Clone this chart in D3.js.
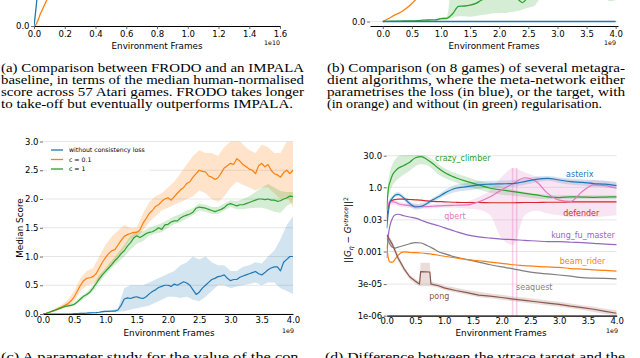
<!DOCTYPE html>
<html>
<head>
<meta charset="utf-8">
<script src="https://cdn.jsdelivr.net/npm/d3@7"></script>
<style>
  body { margin: 0; background: #fff; }
  svg { display: block; }
</style>
</head>
<body>
<script>
// ---------- data ----------

// (a) FRODO vs IMPALA, frames in 1e10 (only the bottom of the plot is visible)
const framesA = [0, 0.005, 0.01, 0.015, 0.02, 0.03, 0.04, 0.06, 0.08, 0.1, 0.12];
const impalaA = [0, 0.12, 0.26, 0.4, 0.55, 0.8, 1.0, 1.3, 1.5, 1.7, 1.8];
const frodoA = [0, 0.005, 0.02, 0.04, 0.07, 0.14, 0.22, 0.35, 0.48, 0.62, 0.75];
const ticksA = [0, 0.2, 0.4, 0.6, 0.8, 1.0, 1.2, 1.4, 1.6];

// (b) metagradient comparison, frames in 1e9
const framesB = [0,0.1,0.2,0.3,0.4,0.5,0.6,0.7,0.8,0.9,1,1.1,1.2,1.3,1.4,1.5,1.6,1.7,1.8,1.9,2,2.1,2.2,2.3,2.4,2.5,2.6,2.7,2.8,2.9,3,3.1,3.2,3.3,3.4,3.5,3.6,3.7,3.8,3.9,4];
const lossB = [0,0,0,0,0,0,0,0,0,0,0,0,0,0,0,0,0,0,0,0,0,0,0,0,0,0,0,0,0,0,0,0,0,0,0,0,0,0,0,0,0];
const targetRegB = [0,0.07,0.15,0.21,0.3,0.42,0.56,0.7,0.85,1,1.1,1.2,1.3,1.35,1.4,1.45,1.5,1.55,1.6,1.6,1.65,1.7,1.7,1.75,1.8,1.8,1.85,1.85,1.9,1.9,1.9,1.95,1.95,2,2,2,2,2.05,2.05,2.05,2.1];
const targetB = [0,0.004,0.008,0.011,0.013,0.016,0.02,0.03,0.035,0.038,0.065,0.075,0.18,0.35,0.36,0.38,0.42,0.5,0.55,0.58,0.6,0.6,0.58,0.54,0.44,0.58,0.64,0.67,0.68,0.7,0.71,0.72,0.72,0.73,0.73,0.74,0.74,0.75,0.75,0.76,0.76];
const targetBLo = [0,0.002,0.005,0.008,0.01,0.012,0.015,0.022,0.027,0.03,0.04,0.05,0.09,0.12,0.12,0.11,0.13,0.15,0.17,0.19,0.2,0.2,0.22,0.24,0.28,0.32,0.36,0.52,0.55,0.55,0.55,0.55,0.55,0.55,0.55,0.55,0.55,0.55,0.55,0.47,0.5];
const targetBHi = [0,0.006,0.011,0.014,0.016,0.02,0.025,0.038,0.045,0.05,0.09,0.11,1,1,1,1,1,1,1,1,1,1,1,1,1,1,1,1,1,1,1,1,1,1,1,1,1,1,1,1,1];
const ticksB = [0, 0.5, 1.0, 1.5, 2.0, 2.5, 3.0, 3.5, 4.0];

// (c) consistency loss study, frames in 1e9
const framesC = [0,0.05,0.1,0.15,0.2,0.25,0.3,0.35,0.4,0.45,0.5,0.55,0.6,0.65,0.7,0.75,0.8,0.85,0.9,0.95,1,1.05,1.1,1.15,1.2,1.25,1.3,1.35,1.4,1.45,1.5,1.55,1.6,1.65,1.7,1.75,1.8,1.85,1.9,1.95,2,2.05,2.1,2.15,2.2,2.25,2.3,2.35,2.4,2.45,2.5,2.55,2.6,2.65,2.7,2.75,2.8,2.85,2.9,2.95,3,3.05,3.1,3.15,3.2,3.25,3.3,3.35,3.4,3.45,3.5,3.55,3.6,3.65,3.7,3.75,3.8,3.85,3.9,3.95,4];
const noConsC = [0,0,0,0,0,0,0,0,0,0,0.005,0.007,0.01,0.012,0.015,0.02,0.022,0.025,0.03,0.04,0.045,0.045,0.05,0.05,0.07,0.15,0.26,0.28,0.27,0.29,0.3,0.28,0.27,0.3,0.35,0.39,0.42,0.46,0.48,0.5,0.5,0.48,0.52,0.5,0.53,0.56,0.54,0.5,0.42,0.34,0.38,0.45,0.5,0.55,0.6,0.62,0.65,0.66,0.68,0.62,0.58,0.6,0.6,0.64,0.66,0.68,0.7,0.72,0.74,0.7,0.68,0.72,0.77,0.8,0.82,0.82,0.75,0.9,0.95,1.0,1.0];
const c01C = [0,0.01,0.03,0.05,0.07,0.1,0.12,0.15,0.18,0.23,0.3,0.4,0.5,0.58,0.62,0.63,0.65,0.7,0.8,0.9,0.98,1.05,1.1,1.12,1.2,1.28,1.35,1.38,1.4,1.42,1.42,1.46,1.58,1.66,1.75,1.8,1.87,1.9,1.96,2.0,2.02,1.98,2.04,2.1,2.16,2.2,2.27,2.3,2.38,2.44,2.5,2.48,2.47,2.4,2.38,2.34,2.37,2.45,2.54,2.58,2.62,2.6,2.7,2.66,2.6,2.56,2.52,2.5,2.44,2.58,2.62,2.56,2.6,2.5,2.44,2.42,2.38,2.46,2.5,2.44,2.5];
const c1C = [0,0.01,0.03,0.05,0.07,0.09,0.11,0.13,0.14,0.15,0.17,0.21,0.26,0.31,0.34,0.38,0.45,0.53,0.61,0.68,0.74,0.8,0.86,0.93,0.98,1.05,1.1,1.18,1.24,1.32,1.36,1.33,1.36,1.4,1.42,1.43,1.46,1.5,1.47,1.55,1.56,1.6,1.62,1.62,1.67,1.7,1.72,1.74,1.77,1.84,1.86,1.85,1.84,1.82,1.8,1.78,1.8,1.82,1.85,1.9,1.92,1.9,1.88,1.9,1.9,1.92,1.94,1.96,1.98,2.0,2.0,1.99,2.0,1.98,1.98,1.96,1.97,2.0,2.02,2.05,2.04];
const bandFramesC = framesB;
const noConsLo = [0,0,0,0,0,0,0,0.005,0.01,0.015,0.03,0.035,0.04,0.05,0.08,0.1,0.12,0.15,0.2,0.25,0.3,0.3,0.28,0.3,0.25,0.22,0.3,0.4,0.5,0.5,0.45,0.48,0.5,0.52,0.55,0.5,0.55,0.55,0.45,0.4,0.35];
const noConsHi = [0,0.005,0.005,0.005,0.005,0.01,0.02,0.025,0.035,0.045,0.06,0.065,0.1,0.45,0.5,0.5,0.5,0.55,0.6,0.65,0.7,0.75,0.85,0.9,1.0,0.95,1.0,0.9,0.85,0.85,0.75,0.75,0.82,0.85,0.9,0.88,1.0,1.1,1.3,1.55,1.7];
const c01Lo = [0,0.02,0.05,0.09,0.13,0.22,0.4,0.5,0.52,0.6,0.75,0.85,0.95,1.15,1.3,1.35,1.45,1.6,1.7,1.8,1.85,1.9,1.95,2.0,2.05,2.15,2.1,2.0,1.95,2.05,2.2,2.3,2.25,2.2,2.15,2.2,2.2,2.1,2.0,2.05,1.85];
const c01Hi = [0,0.04,0.1,0.16,0.25,0.4,0.62,0.75,0.8,1.0,1.2,1.35,1.45,1.55,1.5,1.5,1.75,1.95,2.05,2.1,2.2,2.3,2.45,2.6,2.75,2.85,2.8,2.8,2.75,2.9,3.0,3.05,2.95,2.85,2.8,2.95,2.9,2.8,2.8,3.0,3.0];
const c1Lo = [0,0.02,0.05,0.09,0.12,0.14,0.22,0.3,0.4,0.55,0.68,0.8,0.9,1.0,1.12,1.22,1.27,1.36,1.4,1.42,1.5,1.56,1.6,1.66,1.72,1.8,1.78,1.74,1.74,1.8,1.86,1.82,1.82,1.84,1.85,1.85,1.82,1.78,1.76,1.88,1.95];
const c1Hi = [0,0.04,0.09,0.13,0.17,0.2,0.3,0.38,0.5,0.68,0.8,0.93,1.06,1.2,1.36,1.45,1.44,1.5,1.54,1.58,1.64,1.7,1.74,1.8,1.84,1.92,1.9,1.86,1.86,1.92,1.98,1.96,2.0,2.05,2.12,2.2,2.26,2.2,2.14,2.12,2.12];
const ticksYC = [0, 0.5, 1.0, 1.5, 2.0, 2.5, 3.0];
const legendC = ["without consistency loss", "c = 0.1", "c = 1"];

// (d) ||G_eta - G_vtrace||^2 per game, frames in 1e9
const framesD = [0,0.03,0.06,0.1,0.15,0.2,0.3,0.4,0.5,0.6,0.7,0.8,0.9,1.0,1.2,1.4,1.6,1.8,2.0,2.2,2.4,2.6,2.8,3.0,3.2,3.4,3.6,3.8,4.0];
const crazyClimber = [0.1,0.9,1.85,3.8,5.7,7.7,10.5,15,24,27,20,13,7.7,5.0,2.8,1.85,1.3,0.9,0.75,0.63,0.52,0.44,0.36,0.33,0.36,0.35,0.34,0.35,0.36];
const crazyClimberHi = [0.2,2,6,12,20,28,32,32,32,32,28,20,12,8,4.5,3,2,1.5,1.1,0.8,0.6,0.5,0.45,0.42,0.42,0.42,0.42,0.42,0.42];
const crazyClimberLo = [0.05,0.4,0.7,1.2,1.8,2.5,4,6,10,12,11,7,4,2.8,1.7,1.1,0.8,0.55,0.45,0.4,0.35,0.3,0.28,0.28,0.28,0.29,0.29,0.29,0.29];
const asterix = [0.012,0.074,0.22,0.31,0.44,0.47,0.31,0.175,0.12,0.13,0.175,0.26,0.36,0.52,0.9,1.07,1.3,1.4,1.45,1.5,1.85,2.35,2.64,2.2,1.85,1.7,1.5,1.4,1.2];
const asterixHi = [0.015,0.1,0.3,0.4,0.55,0.6,0.4,0.23,0.17,0.18,0.22,0.32,0.45,0.7,1.3,1.6,1.9,2.0,2.1,2.2,2.6,3.2,3.4,2.9,2.6,2.4,2.2,2.0,1.7];
const asterixLo = [0.009,0.05,0.16,0.24,0.36,0.38,0.24,0.13,0.09,0.1,0.14,0.2,0.28,0.38,0.6,0.7,0.85,0.95,1.0,1.05,1.3,1.7,2.0,1.6,1.3,1.2,1.05,1.0,0.85];
const defender = [0.035,0.125,0.21,0.25,0.27,0.28,0.28,0.27,0.26,0.25,0.23,0.22,0.215,0.21,0.2,0.195,0.195,0.19,0.19,0.19,0.195,0.195,0.2,0.2,0.21,0.21,0.21,0.21,0.21];
const qbert = [0.074,0.17,0.21,0.21,0.2,0.17,0.15,0.14,0.13,0.125,0.125,0.13,0.135,0.14,0.145,0.15,0.21,0.36,0.76,1.5,2.8,1.85,0.52,0.25,0.22,0.63,1.3,1.2,0.9];
const qbertHi = [0.1,0.25,0.3,0.28,0.26,0.22,0.19,0.17,0.16,0.155,0.155,0.16,0.17,0.18,0.19,0.22,0.35,0.7,3,8,5,3.2,2.8,2.5,2.2,2.0,2.2,2.0,1.8];
const qbertLo = [0.05,0.11,0.15,0.15,0.15,0.13,0.12,0.11,0.105,0.1,0.1,0.105,0.11,0.11,0.11,0.1,0.09,0.05,0.004,0.002,0.05,0.08,0.06,0.05,0.04,0.04,0.04,0.045,0.05];
const qbertSpikes = [2.19, 2.26];
const kungFuMaster = [0.0005,0.006,0.0175,0.036,0.052,0.055,0.047,0.041,0.036,0.029,0.023,0.019,0.016,0.013,0.0086,0.006,0.0048,0.0042,0.0038,0.0036,0.0033,0.0031,0.0029,0.0029,0.0027,0.0026,0.0024,0.0022,0.0021];
const beamRider = [0.002,0.00045,0.00032,0.00032,0.00045,0.00068,0.00097,0.0009,0.00088,0.00085,0.0008,0.00074,0.00067,0.0006,0.0005,0.00042,0.00037,0.00032,0.00028,0.00024,0.00022,0.0002,0.00019,0.00018,0.00016,0.00015,0.00014,0.00013,0.00012];
const seaquest = [0.0042,0.003,0.0021,0.0016,0.00145,0.0016,0.0019,0.0023,0.0026,0.0025,0.0019,0.0014,0.00097,0.00079,0.00055,0.00042,0.00032,0.00024,0.00019,0.000155,0.00012,0.0001,0.00009,0.00008,0.00007,0.00006,0.000057,0.000055,0.000053];
const framesPong = [0,0.1,0.2,0.3,0.4,0.5,0.57,0.59,0.75,0.77,0.9,1.0,1.2,1.4,1.6,1.8,2.0,2.2,2.4,2.6,2.8,3.0,3.2,3.4,3.6,3.8,4.0];
const pong = [0.006,0.0021,0.00048,0.00016,0.000066,0.000041,0.00003,0.000115,0.00011,0.00003,0.000025,0.00002,0.000015,0.000012,0.0000092,0.0000083,0.0000071,0.000006,0.0000052,0.0000045,0.0000039,0.0000034,0.0000028,0.0000024,0.000002,0.0000016,0.0000013];
const pongHi = [0.008,0.003,0.0007,0.0002,0.00008,0.00005,0.00004,0.0003,0.0003,0.00004,0.000032,0.000026,0.00002,0.000016,0.000013,0.000011,0.0000095,0.000008,0.000007,0.000006,0.0000052,0.0000045,0.0000037,0.0000031,0.0000026,0.0000021,0.0000018];
const pongLo = [0.0045,0.0015,0.00035,0.00012,0.00005,0.00003,0.000024,0.000024,0.000024,0.000024,0.00002,0.000016,0.000012,0.0000095,0.0000072,0.0000065,0.0000055,0.0000047,0.000004,0.0000035,0.000003,0.0000026,0.0000022,0.0000019,0.0000015,0.0000012,0.000001];
const ticksYD = [30, 1, 0.03, 0.001, 3e-5, 1e-6];
const tickLabelsYD = ["30.0", "1.0", "0.03", "0.001", "3e-05", "1e-06"];
const gameLabels = [
  { name: "crazy_climber", frame: 0.84, value: 23, color: "green" },
  { name: "asterix", frame: 3.12, value: 4.2, color: "blue" },
  { name: "qbert", frame: 1.0, value: 0.046, color: "pink" },
  { name: "defender", frame: 3.07, value: 0.063, color: "red" },
  { name: "kung_fu_master", frame: 2.86, value: 0.0059, color: "purple" },
  { name: "beam_rider", frame: 3.01, value: 0.00036, color: "orange" },
  { name: "seaquest", frame: 2.25, value: 2.2e-5, color: "grey" },
  { name: "pong", frame: 0.74, value: 8.3e-6, color: "brown" }
];

// captions
const captionA = [
  "(a) Comparison between FRODO and an IMPALA",
  "baseline, in terms of the median human-normalised",
  "score across 57 Atari games. FRODO takes longer",
  "to take-off but eventually outperforms IMPALA."
];
const captionB = [
  "(b) Comparison (on 8 games) of several metagra-",
  "dient algorithms, where the meta-network either",
  "parametrises the loss (in blue), or the target, with",
  "(in orange) and without (in green) regularisation."
];
const captionC = "(c) A parameter study for the value of the con-";
const captionD = "(d) Difference between the vtrace target and the";

// ---------- drawing ----------
const FONT = "'DejaVu Sans', sans-serif";
const SERIF = "'Liberation Serif', 'Times New Roman', serif";
const col = {
  blue: "#1f77b4", orange: "#ff7f0e", green: "#2ca02c", red: "#d62728",
  purple: "#9467bd", brown: "#8c564b", pink: "#e377c2", grey: "#7f7f7f"
};

const svg = d3.select("body").append("svg")
  .attr("width", 640)
  .attr("height", 358);

const defs = svg.append("defs");
function clip(id, x0, y0, x1, y1) {
  defs.append("clipPath").attr("id", id)
    .append("rect").attr("x", x0).attr("y", y0).attr("width", x1 - x0).attr("height", y1 - y0);
  return svg.append("g").attr("clip-path", `url(#${id})`);
}

function xAxis(x, y0, ticks, fmt, size, pad) {
  const g = svg.append("g")
    .attr("transform", `translate(0,${y0})`)
    .call(d3.axisBottom(x).tickValues(ticks).tickFormat(fmt).tickSize(size).tickSizeOuter(0).tickPadding(pad));
  g.select(".domain").attr("stroke", "#000").attr("stroke-width", 1.2);
  g.selectAll(".tick line").attr("stroke", "#444").attr("stroke-width", 0.8);
  g.selectAll(".tick text").attr("font-family", FONT).attr("font-size", 8.5).attr("fill", "#000");
  return g;
}

function yAxis(y, x0, ticks, fmt) {
  const g = svg.append("g")
    .attr("transform", `translate(${x0},0)`)
    .call(d3.axisLeft(y).tickValues(ticks).tickFormat(fmt).tickSize(3).tickSizeOuter(0).tickPadding(1.5));
  g.select(".domain").remove();
  g.selectAll(".tick line").attr("stroke", "#444").attr("stroke-width", 0.8);
  g.selectAll(".tick text").attr("font-family", FONT).attr("font-size", 8.5).attr("fill", "#000");
  return g;
}

function label(x, y, txt, size, anchor) {
  return svg.append("text")
    .attr("x", x).attr("y", y)
    .attr("font-family", FONT).attr("font-size", size)
    .attr("text-anchor", anchor || "middle")
    .text(txt);
}

function drawLine(g, xs, ys, x, y, color, w, curve) {
  const pts = xs.map((f, i) => [f, ys[i]]);
  g.append("path")
    .datum(pts)
    .attr("fill", "none")
    .attr("stroke", color)
    .attr("stroke-width", w)
    .attr("stroke-linejoin", "round")
    .attr("d", d3.line().x(d => x(d[0])).y(d => y(d[1])).curve(curve || d3.curveLinear));
}

function drawBand(g, xs, lo, hi, x, y, color, op, curve) {
  const pts = xs.map((f, i) => [f, lo[i], hi[i]]);
  g.append("path")
    .datum(pts)
    .attr("fill", color)
    .attr("fill-opacity", op)
    .attr("stroke", "none")
    .attr("d", d3.area().x(d => x(d[0])).y0(d => y(d[1])).y1(d => y(d[2])).curve(curve || d3.curveLinear));
}

// ===== (a) =====
const xA = d3.scaleLinear().domain([0, 1.6]).range([34, 280]);
const yA = d3.scaleLinear().domain([0, 0.5]).range([26, 0]);
const gA = clip("clipA", 34, 0, 280, 26);
drawLine(gA, framesA, impalaA, xA, yA, col.blue, 1.3, d3.curveMonotoneX);
drawLine(gA, framesA, frodoA, xA, yA, col.orange, 1.3, d3.curveMonotoneX);
xAxis(xA, 26, ticksA, d3.format(".1f"), 3, 1.5);
yAxis(yA, 34, [0], d3.format(".1f"));
label(157, 48.5, "Environment Frames", 8.8);
label(272, 45, "1e10", 6.3);

// ===== (b) =====
const xB = d3.scaleLinear().domain([-0.22, 4.04]).range([370, 618]);
const yB = d3.scaleLinear().domain([0, 0.5]).range([21.5, 0]);
svg.append("line").attr("x1", 370).attr("x2", 618).attr("y1", yB(0)).attr("y2", yB(0))
  .attr("stroke", "#e3e3e3").attr("stroke-width", 0.8);
const gB = clip("clipB", 370, 0, 618, 25);
drawBand(gB, framesB, targetBLo, targetBHi, xB, yB, col.green, 0.2, d3.curveMonotoneX);
drawLine(gB, framesB, targetRegB, xB, yB, col.orange, 1.3, d3.curveMonotoneX);
drawLine(gB, framesB, targetB, xB, yB, col.green, 1.3, d3.curveMonotoneX);
drawLine(gB, framesB, lossB, xB, yB, col.blue, 1.3);
xAxis(xB, 26, ticksB, d3.format(".1f"), 3, 1.5);
yAxis(yB, 370, [0], d3.format(".1f"));
label(494, 48.5, "Environment Frames", 8.8);
label(610, 45, "1e9", 6.3);

// ===== (c) =====
const xC = d3.scaleLinear().domain([0, 4]).range([43, 293]);
const yC = d3.scaleLinear().domain([0, 3]).range([314, 141.5]);
svg.append("g").selectAll("line").data(ticksYC).enter().append("line")
  .attr("x1", 43).attr("x2", 293)
  .attr("y1", d => yC(d)).attr("y2", d => yC(d))
  .attr("stroke", "#e0e0e0").attr("stroke-width", 0.8);
const gC = clip("clipC", 43, 141.5, 293, 314);
drawBand(gC, bandFramesC, noConsLo, noConsHi, xC, yC, col.blue, 0.2);
drawBand(gC, bandFramesC, c01Lo, c01Hi, xC, yC, col.orange, 0.22);
drawBand(gC, bandFramesC, c1Lo, c1Hi, xC, yC, col.green, 0.2);
drawLine(gC, framesC, noConsC, xC, yC, col.blue, 1.2);
drawLine(gC, framesC, c01C, xC, yC, col.orange, 1.2);
drawLine(gC, framesC, c1C, xC, yC, col.green, 1.2);
xAxis(xC, 314, ticksB, d3.format(".1f"), 0, 2.5);
yAxis(yC, 43, ticksYC, d3.format(".1f"));
label(169, 335.5, "Environment Frames", 8.8);
label(288, 332.5, "1e9", 6.3);
svg.append("text")
  .attr("transform", "translate(23,228) rotate(-90)")
  .attr("font-family", FONT).attr("font-size", 8.8).attr("text-anchor", "middle")
  .text("Median Score");

// legend
const legG = svg.append("g");
legG.append("rect").attr("x", 47).attr("y", 144).attr("width", 103).attr("height", 30)
  .attr("fill", "#fff").attr("fill-opacity", 0.85);
const legColors = [col.blue, col.orange, col.green];
legendC.forEach((name, i) => {
  const yy = 150 + i * 9.5;
  legG.append("line").attr("x1", 51).attr("x2", 63).attr("y1", yy).attr("y2", yy)
    .attr("stroke", legColors[i]).attr("stroke-width", 1.3);
  legG.append("text").attr("x", 69).attr("y", yy + 2.2)
    .attr("font-family", FONT).attr("font-size", 6.2).text(name);
});

// ===== (d) =====
const xD = d3.scaleLinear().domain([0, 4]).range([386.7, 616.7]);
const yD = d3.scaleLog().domain([1e-6, 30]).range([315.7, 155.7]);
svg.append("g").selectAll("line").data(ticksYD).enter().append("line")
  .attr("x1", 386.7).attr("x2", 616.7)
  .attr("y1", d => yD(d)).attr("y2", d => yD(d))
  .attr("stroke", "#e0e0e0").attr("stroke-width", 0.8);
const gD = clip("clipD", 386.7, 148, 616.7, 315.7);
const smooth = d3.curveMonotoneX;
drawBand(gD, framesD, crazyClimberLo, crazyClimberHi, xD, yD, col.green, 0.2, smooth);
drawBand(gD, framesD, asterixLo, asterixHi, xD, yD, col.blue, 0.2, smooth);
drawBand(gD, framesD, qbertLo, qbertHi, xD, yD, col.pink, 0.2, smooth);
drawBand(gD, framesPong, pongLo, pongHi, xD, yD, col.brown, 0.2);
gD.append("g").selectAll("rect").data(qbertSpikes).enter().append("rect")
  .attr("x", d => xD(d) - 0.8).attr("width", 1.6)
  .attr("y", yD(8)).attr("height", yD(1e-6) - yD(8))
  .attr("fill", col.pink).attr("fill-opacity", 0.35);
drawLine(gD, framesD, crazyClimber, xD, yD, col.green, 1.2, smooth);
drawLine(gD, framesD, defender, xD, yD, col.red, 1.2, smooth);
drawLine(gD, framesD, qbert, xD, yD, col.pink, 1.2, smooth);
drawLine(gD, framesD, asterix, xD, yD, col.blue, 1.2, smooth);
drawLine(gD, framesD, kungFuMaster, xD, yD, col.purple, 1.2, smooth);
drawLine(gD, framesD, seaquest, xD, yD, col.grey, 1.2, smooth);
drawLine(gD, framesD, beamRider, xD, yD, col.orange, 1.2, smooth);
drawLine(gD, framesPong, pong, xD, yD, col.brown, 1.2);
xAxis(xD, 315.7, ticksB, d3.format(".1f"), 0, 2.5);
yAxis(yD, 386.7, ticksYD, (d, i) => tickLabelsYD[i]);
label(501, 335.5, "Environment Frames", 8.8);
label(612, 332.5, "1e9", 6.3);

svg.append("g").selectAll("text").data(gameLabels).enter().append("text")
  .attr("x", d => xD(d.frame)).attr("y", d => yD(d.value))
  .attr("dy", "0.35em")
  .attr("font-family", FONT).attr("font-size", 8)
  .attr("fill", d => col[d.color])
  .text(d => d.name);

// y label of (d): ||G_eta - G^vtrace||^2
const yl = svg.append("text")
  .attr("transform", "translate(351,230) rotate(-90)")
  .attr("font-family", FONT).attr("font-size", 8.8).attr("text-anchor", "middle");
yl.append("tspan").text("||");
yl.append("tspan").attr("font-style", "italic").text("G");
yl.append("tspan").attr("font-size", 6.2).attr("font-style", "italic").attr("dy", 2).text("η");
yl.append("tspan").attr("dy", -2).text(" − ");
yl.append("tspan").attr("font-style", "italic").text("G");
yl.append("tspan").attr("font-size", 6.2).attr("font-style", "italic").attr("dy", -3.5).text("vtrace");
yl.append("tspan").attr("dy", 3.5).text("||");
yl.append("tspan").attr("font-size", 6.2).attr("dy", -3.5).text("2");

// ===== captions =====
function caption(lines, x, y0, widths) {
  lines.forEach((t, i) => {
    svg.append("text")
      .attr("x", x).attr("y", y0 + i * 12)
      .attr("font-family", SERIF).attr("font-size", 11.5)
      .attr("textLength", widths[i]).attr("lengthAdjust", "spacingAndGlyphs")
      .text(t);
  });
}
caption(captionA, 1, 72, [303, 303, 303, 292]);
caption(captionB, 327, 72, [298, 298, 298, 275]);
caption([captionC], 1, 361, [303]);
caption([captionD], 325, 361, [300]);
</script>
</body>
</html>
